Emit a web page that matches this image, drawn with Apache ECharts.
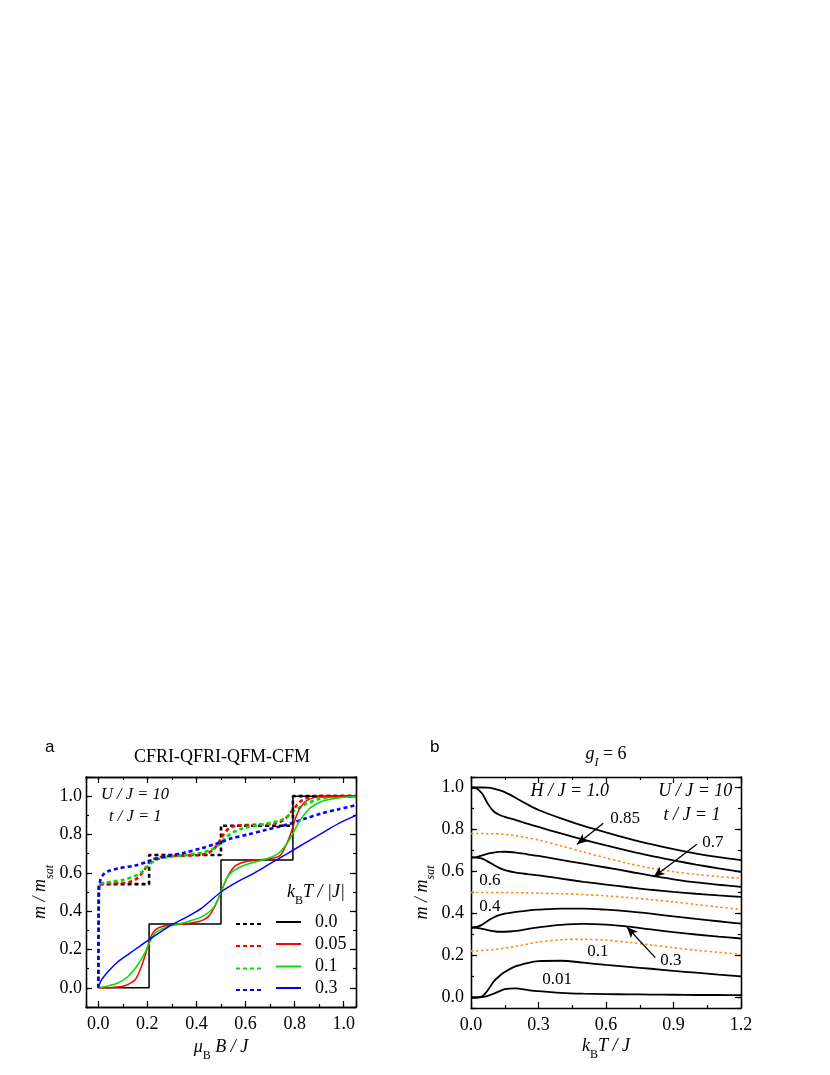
<!DOCTYPE html>
<html>
<head>
<meta charset="utf-8">
<script src="https://cdn.jsdelivr.net/npm/echarts@6.0.0/dist/echarts.min.js"></script>
<style>
  html,body{margin:0;padding:0;background:#fff;}
  #chart{width:830px;height:1075px;}
</style>
</head>
<body>
<div id="chart"></div>
<script>
// ---------- panel a : m/msat vs muB B / J ----------
var tLabels = ['0.0', '0.05', '0.1', '0.3'];
var aColors = ['#000000', '#ff0000', '#00e000', '#0000ff'];

// solid lines (one set of curves)
var aSolid0 = [[0,0],[0.207,0],[0.207,0.333],[0.5,0.333],[0.5,0.667],[0.793,0.667],[0.793,1],[1.05,1]];
var aSolid005 = [[0,0],[0.05,0.001],[0.08,0.004],[0.1,0.008],[0.12,0.017],[0.15,0.042],[0.17,0.093],[0.19,0.165],
  [0.205,0.232],[0.218,0.277],[0.235,0.305],[0.26,0.32],[0.29,0.327],[0.35,0.333],[0.4,0.343],[0.43,0.356],
  [0.45,0.373],[0.475,0.425],[0.5,0.5],[0.525,0.575],[0.55,0.627],[0.57,0.645],[0.6,0.658],[0.65,0.667],
  [0.7,0.674],[0.74,0.69],[0.765,0.745],[0.785,0.806],[0.805,0.89],[0.825,0.944],[0.85,0.978],[0.89,0.995],
  [0.95,1.0],[1.05,1.0]];
var aSolid01 = [[0,0],[0.04,0.01],[0.08,0.025],[0.12,0.058],[0.16,0.118],[0.19,0.182],[0.205,0.225],[0.23,0.284],
  [0.26,0.308],[0.29,0.322],[0.35,0.34],[0.42,0.37],[0.46,0.405],[0.48,0.44],[0.5,0.5],[0.525,0.575],
  [0.545,0.605],[0.57,0.625],[0.61,0.646],[0.68,0.671],[0.73,0.698],[0.765,0.745],[0.8,0.823],[0.825,0.88],
  [0.865,0.94],[0.92,0.977],[0.99,0.993],[1.05,0.998]];
var aSolid03 = [[0,0],[0.005,0.02],[0.014,0.043],[0.04,0.085],[0.08,0.136],[0.1,0.155],[0.15,0.2],[0.2,0.245],
  [0.29,0.322],[0.35,0.362],[0.42,0.415],[0.5,0.5],[0.57,0.555],[0.635,0.598],[0.7,0.648],[0.77,0.7],
  [0.84,0.754],[0.91,0.806],[0.98,0.858],[1.05,0.9]];

// dashed lines (second set of curves)
var aDash0 = [[0,0],[0,0.541],[0.207,0.541],[0.207,0.693],[0.5,0.693],[0.5,0.846],[0.793,0.846],[0.793,1],[1.05,1]];
var aDash005 = [[0,0],[0.001,0.5],[0.003,0.54],[0.05,0.545],[0.1,0.547],[0.13,0.553],[0.15,0.563],[0.17,0.585],
  [0.19,0.62],[0.205,0.65],[0.22,0.668],[0.245,0.681],[0.28,0.687],[0.35,0.69],[0.4,0.692],[0.44,0.7],
  [0.47,0.722],[0.49,0.757],[0.51,0.8],[0.535,0.835],[0.57,0.847],[0.65,0.851],[0.72,0.857],[0.75,0.872],
  [0.77,0.893],[0.79,0.925],[0.81,0.955],[0.83,0.978],[0.86,0.994],[0.9,1.0],[1.05,1.0]];
var aDash01 = [[0,0],[0.002,0.54],[0.02,0.548],[0.05,0.553],[0.1,0.563],[0.15,0.584],[0.18,0.607],[0.21,0.645],
  [0.235,0.667],[0.27,0.68],[0.35,0.692],[0.42,0.705],[0.46,0.72],[0.49,0.745],[0.515,0.78],[0.55,0.812],
  [0.6,0.836],[0.68,0.855],[0.74,0.873],[0.77,0.893],[0.8,0.925],[0.85,0.962],[0.9,0.985],[0.95,0.995],[1.05,1.0]];
var aDash03 = [[0,0],[0.003,0.5],[0.008,0.56],[0.02,0.59],[0.04,0.608],[0.08,0.623],[0.15,0.638],[0.2,0.658],
  [0.25,0.678],[0.29,0.689],[0.35,0.705],[0.42,0.728],[0.47,0.748],[0.5,0.76],[0.54,0.779],[0.61,0.8],
  [0.68,0.823],[0.74,0.842],[0.79,0.86],[0.84,0.882],[0.91,0.91],[0.98,0.932],[1.05,0.953]];

// ---------- panel b : m/msat vs kB T / J ----------
var kT    = [0, 0.025, 0.05, 0.075, 0.1, 0.125, 0.15, 0.2, 0.25, 0.3, 0.4, 0.5, 0.6, 0.7, 0.8, 0.9, 1.0, 1.1, 1.2];
var bH100 = [1.0, 1.0, 1.0, 0.999, 0.995, 0.988, 0.978, 0.95, 0.92, 0.893, 0.853, 0.817, 0.786, 0.757, 0.73, 0.706, 0.685, 0.668, 0.654];
var bH085 = [1.0, 0.995, 0.97, 0.922, 0.887, 0.87, 0.86, 0.845, 0.828, 0.812, 0.781, 0.752, 0.724, 0.698, 0.674, 0.653, 0.633, 0.615, 0.598];
var bOr1  = [0.781, 0.781, 0.781, 0.78, 0.78, 0.779, 0.777, 0.77, 0.761, 0.75, 0.722, 0.693, 0.665, 0.638, 0.616, 0.599, 0.586, 0.576, 0.567];
var bH070 = [0.667, 0.669, 0.677, 0.685, 0.69, 0.693, 0.694, 0.69, 0.682, 0.674, 0.655, 0.637, 0.619, 0.6, 0.58, 0.563, 0.548, 0.537, 0.527];
var bH060 = [0.667, 0.666, 0.661, 0.647, 0.632, 0.617, 0.607, 0.595, 0.588, 0.582, 0.566, 0.551, 0.538, 0.525, 0.513, 0.503, 0.494, 0.486, 0.479];
var bOr2  = [0.5, 0.5, 0.5, 0.5, 0.5, 0.5, 0.5, 0.499, 0.498, 0.497, 0.494, 0.49, 0.484, 0.476, 0.466, 0.455, 0.443, 0.431, 0.419];
var bH040 = [0.333, 0.336, 0.347, 0.366, 0.381, 0.392, 0.399, 0.408, 0.414, 0.418, 0.423, 0.423, 0.418, 0.41, 0.399, 0.386, 0.374, 0.363, 0.352];
var bH030 = [0.333, 0.332, 0.327, 0.321, 0.316, 0.313, 0.313, 0.317, 0.326, 0.334, 0.346, 0.351, 0.347, 0.337, 0.324, 0.311, 0.3, 0.29, 0.281];
var bOr3  = [0.222, 0.222, 0.224, 0.226, 0.228, 0.231, 0.235, 0.243, 0.254, 0.264, 0.275, 0.277, 0.273, 0.263, 0.25, 0.237, 0.225, 0.215, 0.206];
var bH010 = [0, 0, 0.006, 0.035, 0.075, 0.101, 0.121, 0.149, 0.164, 0.173, 0.175, 0.166, 0.155, 0.146, 0.137, 0.127, 0.118, 0.109, 0.101];
var bH001 = [0, 0, 0.002, 0.008, 0.018, 0.029, 0.04, 0.043, 0.036, 0.03, 0.022, 0.018, 0.016, 0.015, 0.014, 0.013, 0.012, 0.012, 0.011];

// annotations (data coordinates)
var notesA = [['{j|U / J = 10}', 0.011, 1.006], ['{j|t / J = 1}', 0.044, 0.892]];
var notesB = [['{i|H / J = 1.0}', 0.264, 0.968], ['{i|U / J = 10}', 0.832, 0.968], ['{i|t / J = 1}', 0.855, 0.854],
  ['0.85', 0.619, 0.85], ['0.7', 1.028, 0.74], ['0.6', 0.037, 0.559], ['0.4', 0.037, 0.435],
  ['0.1', 0.517, 0.22], ['0.3', 0.841, 0.178], ['0.01', 0.317, 0.087]];
var arrowsB = [[0.588, 0.83, 0.471, 0.73], [1.004, 0.73, 0.812, 0.574], [0.819, 0.19, 0.693, 0.336]];

var serif = "'Liberation Serif', 'Times New Roman', 'DejaVu Serif', serif";
var rich = {
  i: {fontFamily: serif, fontStyle: 'italic', fontSize: 18, lineHeight: 24, verticalAlign: 'top', color: '#000'},
  j: {fontFamily: serif, fontStyle: 'italic', fontSize: 16.5, lineHeight: 22, color: '#000'},
  n: {fontFamily: serif, fontSize: 18, lineHeight: 24, verticalAlign: 'top', color: '#000'},
  s: {fontFamily: serif, fontStyle: 'italic', fontSize: 12, lineHeight: 12, verticalAlign: 'bottom', color: '#000'},
  u: {fontFamily: serif, fontSize: 12, lineHeight: 12, verticalAlign: 'bottom', color: '#000'}
};

function lbl(step) {
  return function (v) {
    var k = v / step;
    return Math.abs(k - Math.round(k)) < 1e-6 ? v.toFixed(1) : '';
  };
}

function axis(grid, pos, min, max, o) {
  var a = {
    type: 'value', gridIndex: grid, position: pos, min: min, max: max,
    splitLine: {show: false},
    axisLine: {show: true, onZero: false, lineStyle: {color: '#000', width: 1.3}},
    axisTick: {show: true, inside: true, length: o.tick || 6, lineStyle: {color: '#000', width: 1.2}},
    axisLabel: {show: false}
  };
  if (o.interval) a.interval = o.interval; else a.splitNumber = o.split;
  if (o.minor) a.minorTick = {show: true, splitNumber: o.minor, length: 3, lineStyle: {color: '#000', width: 1.2}};
  if (o.label) a.axisLabel = {show: true, formatter: o.label, margin: o.margin, color: '#000', fontFamily: serif, fontSize: 18};
  if (o.name) {
    a.name = o.name; a.nameLocation = 'middle'; a.nameGap = o.gap;
    a.nameRotate = o.rot || 0;
    a.nameTextStyle = {rich: rich};
  }
  return a;
}

var xAxes = [
  axis(0, 'bottom', -0.05, 1.05, {split: 5, label: lbl(0.2), margin: 8, name: '{i|μ}{u|B}{i| B / J}', gap: 31}),
  axis(0, 'top', -0.05, 1.05, {split: 5}),
  axis(0, 'bottom', -0.05, 1.05, {split: 11, tick: 3}),
  axis(0, 'top', -0.05, 1.05, {split: 11, tick: 3}),
  axis(1, 'bottom', 0, 1.2, {interval: 0.3, minor: 2, label: lbl(0.3), margin: 8, name: '{i|k}{u|B}{i|T / J}', gap: 29}),
  axis(1, 'top', 0, 1.2, {interval: 0.3, minor: 2})
];
var yAxes = [
  axis(0, 'left', -0.1, 1.1, {split: 6, label: lbl(0.2), margin: 4, name: '{i|m / m}{s|sat}', gap: 30, rot: 90}),
  axis(0, 'right', -0.1, 1.1, {split: 6}),
  axis(0, 'left', -0.1, 1.1, {split: 12, tick: 3}),
  axis(0, 'right', -0.1, 1.1, {split: 12, tick: 3}),
  axis(1, 'left', -0.05, 1.05, {split: 5, label: lbl(0.2), margin: 7, name: '{i|m / m}{s|sat}', gap: 34, rot: 90}),
  axis(1, 'right', -0.05, 1.05, {split: 5}),
  axis(1, 'left', -0.05, 1.05, {split: 11, tick: 3}),
  axis(1, 'right', -0.05, 1.05, {split: 11, tick: 3})
];

var series = [];
var aSolids = [aSolid0, aSolid005, aSolid01, aSolid03];
var aDashes = [aDash0, aDash005, aDash01, aDash03];
for (var i = 0; i < 4; i++) {
  series.push({
    name: 'd' + tLabels[i], type: 'line', xAxisIndex: 0, yAxisIndex: 0, data: aDashes[i],
    symbol: 'none', smooth: i === 0 ? false : 0.3, z: 3,
    lineStyle: {color: aColors[i], width: 2.6, type: [4, 3]}, itemStyle: {color: aColors[i]}
  });
}
for (var j = 0; j < 4; j++) {
  series.push({
    name: tLabels[j], type: 'line', xAxisIndex: 0, yAxisIndex: 0, data: aSolids[j],
    symbol: 'none', smooth: j === 0 ? false : 0.3, z: 4,
    lineStyle: {color: aColors[j], width: 1.5}, itemStyle: {color: aColors[j]}
  });
}

var bCurves = [[bH100, 0], [bH085, 0], [bOr1, 1], [bH070, 0], [bH060, 0], [bOr2, 1],
  [bH040, 0], [bH030, 0], [bOr3, 1], [bH010, 0], [bH001, 0]];
bCurves.forEach(function (c, k) {
  var dotted = c[1] === 1;
  series.push({
    name: 'b' + k, type: 'line', xAxisIndex: 4, yAxisIndex: 4,
    data: kT.map(function (x, n) { return [x, c[0][n]]; }),
    symbol: 'none', smooth: 0.3,
    lineStyle: dotted ? {color: '#ff8c1a', width: 1.6, type: [2.5, 2.5]} : {color: '#000', width: 1.8}
  });
});
series[series.length - 1].markLine = {
  silent: true, animation: false, symbol: ['none', 'arrow'], symbolSize: [7, 11],
  label: {show: false},
  lineStyle: {color: '#000', width: 1.3, type: 'solid'},
  data: arrowsB.map(function (a) { return [{coord: [a[0], a[1]]}, {coord: [a[2], a[3]]}]; })
};

// legend: one small legend per row, dashed sample then solid sample + label
var legendRows = [924, 946, 968.5, 990];
var legends = [];
tLabels.forEach(function (t, r) {
  var base = {orient: 'horizontal', top: legendRows[r] - 11, padding: 0, itemHeight: 22,
    selectedMode: false, itemStyle: {opacity: 0}};
  legends.push(Object.assign({}, base, {
    data: ['d' + t], left: 235, itemWidth: 27,
    formatter: function () { return ''; }, textStyle: {fontSize: 1}
  }));
  legends.push(Object.assign({}, base, {
    data: [t], left: 275, itemWidth: 25,
    formatter: function (n) { return '  ' + n; },
    textStyle: {fontFamily: serif, fontSize: 18, color: '#000'}
  }));
});

var chart = echarts.init(document.getElementById('chart'), null, {renderer: 'canvas'});
chart.setOption({
  animation: false,
  backgroundColor: '#fff',
  grid: [
    {left: 86, top: 777, width: 270, height: 230, containLabel: false},
    {left: 471, top: 777, width: 270, height: 231, containLabel: false}
  ],
  xAxis: xAxes,
  yAxis: yAxes,
  legend: legends,
  series: series
});

function place(grid, list) {
  return list.map(function (n) {
    var p = chart.convertToPixel({gridIndex: grid}, [n[1], n[2]]);
    return {
      type: 'text', x: p[0], y: p[1], z: 10,
      style: {text: n[0], rich: rich, fill: '#000', font: '17px ' + serif,
        textAlign: 'left', textVerticalAlign: 'middle', align: 'left', verticalAlign: 'middle'}
    };
  });
}

var fixed = [
  {type: 'text', x: 45, y: 747, style: {text: 'a', fill: '#000', font: "17px 'Liberation Sans', sans-serif", textAlign: 'left', textVerticalAlign: 'middle'}},
  {type: 'text', x: 430, y: 747, style: {text: 'b', fill: '#000', font: "17px 'Liberation Sans', sans-serif", textAlign: 'left', textVerticalAlign: 'middle'}},
  {type: 'text', x: 222, y: 757, style: {text: 'CFRI-QFRI-QFM-CFM', fill: '#000', font: '18px ' + serif, textAlign: 'center', textVerticalAlign: 'middle'}},
  {type: 'text', x: 606, y: 757, style: {text: '{i|g}{s|I}{n| = 6}', rich: rich, textAlign: 'center', textVerticalAlign: 'middle'}},
  {type: 'text', x: 287, y: 895, style: {text: '{i|k}{u|B}{i|T / |J|}', rich: rich, textAlign: 'left', textVerticalAlign: 'middle'}}
];

chart.setOption({graphic: fixed.concat(place(0, notesA), place(1, notesB))});
</script>
</body>
</html>
